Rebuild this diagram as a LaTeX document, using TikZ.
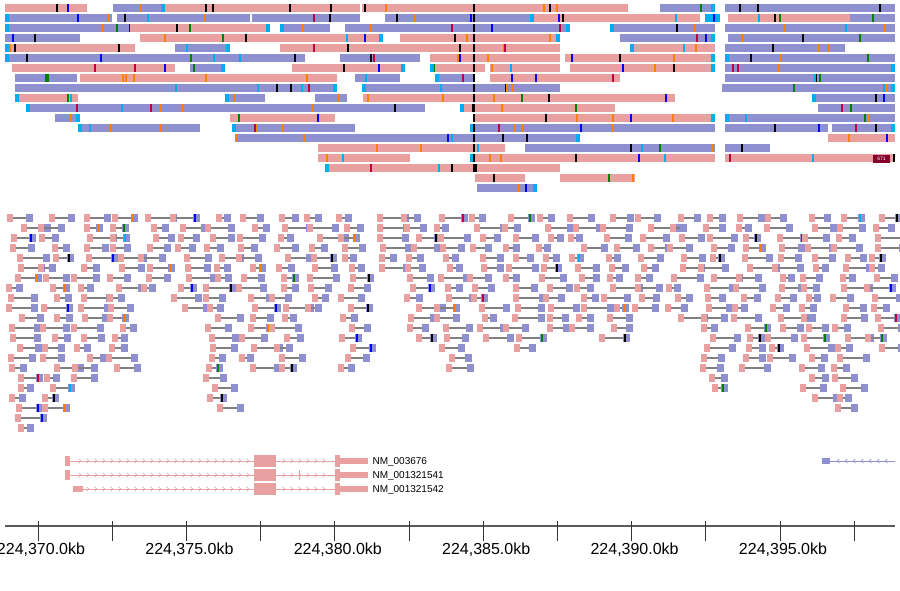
\documentclass[tikz,border=0pt]{standalone}
\usepackage{fontspec}
\setmainfont{Liberation Sans}
\definecolor{pk}{RGB}{232,160,160}
\definecolor{bl}{RGB}{142,144,208}
\definecolor{ax}{RGB}{90,90,90}
\pgfmathdeclarerandomlist{marks}{{black}{orange}{green!50!black}{blue}{purple}{cyan}{black}{orange}}
\newcommand\seg[4]{%
 \pgfmathsetmacro\yy{4+10*#3}%
 \fill[#4] (#1,\yy) rectangle (#2,\yy+8);%
 \pgfmathtruncatemacro\nm{(#2-#1)/60}%
 \foreach \k in {0,...,\nm}{\pgfmathrandominteger{\mx}{#1}{#2-2}\pgfmathrandomitem{\mc}{marks}\fill[\mc] (\mx,\yy) rectangle (\mx+1.6,\yy+8);}%
 \pgfmathrandominteger{\cp}{0}{3}%
 \ifnum\cp=0 \fill[cyan] (#1,\yy) rectangle (#1+4,\yy+8);\fi
 \ifnum\cp=1 \fill[cyan] (#2-4,\yy) rectangle (#2,\yy+8);\fi
}
\begin{document}
\begin{tikzpicture}[x=1pt,y=-1pt]
\useasboundingbox (0,0) rectangle (900,591);
\fill[white] (0,0) rectangle (900,591);
\clip (0,0) rectangle (900,591);
\pgfmathsetseed{7}
% top coverage rows
\foreach \a/\b/\r/\c in {5/87/0/pk,113/165/0/bl,165/360/0/pk,362/628/0/pk,660/715/0/bl,725/895/0/bl,
5/112/1/bl,117/250/1/bl,252/360/1/bl,385/530/1/bl,530/700/1/pk,705/720/1/cyan,728/850/1/pk,850/895/1/bl,
5/135/2/bl,130/270/2/pk,280/330/2/bl,345/570/2/bl,610/715/2/bl,725/895/2/bl,
5/80/3/bl,140/383/3/pk,400/560/3/pk,620/715/3/bl,728/895/3/bl,
5/135/4/pk,175/230/4/bl,280/560/4/pk,630/715/4/pk,725/845/4/bl,
5/305/5/bl,340/420/5/bl,430/560/5/pk,565/715/5/pk,725/895/5/bl,
12/175/6/pk,190/225/6/bl,292/405/6/pk,430/485/6/pk,490/560/6/pk,570/715/6/pk,725/895/6/bl,
15/77/7/bl,80/337/7/pk,355/400/7/bl,435/475/7/bl,490/620/7/pk,725/895/7/bl,
15/337/8/bl,362/560/8/bl,722/895/8/bl,
15/78/9/pk,225/265/9/bl,315/347/9/bl,363/675/9/pk,812/895/9/bl,
26/425/10/bl,460/615/10/pk,818/895/10/bl,
55/80/11/bl,230/335/11/pk,473/715/11/pk,725/895/11/bl,
78/200/12/bl,232/355/12/bl,470/715/12/bl,725/828/12/bl,832/895/12/bl,
235/580/13/bl,828/895/13/pk,
318/505/14/pk,525/715/14/bl,725/770/14/bl,
318/410/15/pk,470/715/15/pk,725/895/15/pk,
325/560/16/pk,475/525/17/pk,560/635/17/pk,477/537/18/bl}
 {\seg{\a}{\b}{\r}{\c}}
\foreach \r in {0,...,16}{\fill[black] (473,4+10*\r) rectangle (475,12+10*\r);}
\fill[purple!70!black] (873,155) rectangle (890,163);
\node[font=\fontsize{5}{5}\selectfont,text=white] (n671) at (881.5,159) {671};
% split reads
\foreach \c/\d in {0/21,1/19,2/16,3/15,4/7,5/9,6/19,7/15,8/15,9/9,10/15,11/5,12/12,13/15,14/12,15/13,16/11,17/11,18/12,19/9,20/10,21/17,22/15,23/14,24/18,25/19,26/13}{
 \foreach \r in {0,...,\d}{
  \pgfmathrandominteger{\o}{0}{16}\pgfmathrandominteger{\L}{8}{26}
  \pgfmathsetmacro\xx{5+33*\c+\o}\pgfmathsetmacro\yy{214+10*\r}
  \draw[gray,line width=1.6] (\xx+5,\yy+4) -- (\xx+\L,\yy+4);
  \fill[pk] (\xx,\yy) rectangle (\xx+6,\yy+8);
  \fill[bl] (\xx+\L,\yy) rectangle (\xx+\L+7,\yy+8);
  \pgfmathrandominteger{\q}{0}{5}
  \ifnum\q=0 \pgfmathrandomitem{\mc}{marks}\fill[\mc] (\xx+\L+1,\yy) rectangle (\xx+\L+3,\yy+8);\fi
 }}
% genes
\tikzset{gl/.style={pk,line width=1},chev/.style={pk,line width=.6}}
\foreach \y/\s in {461/65,475/65,489/80}{
 \draw[gl] (\s,\y) -- (335,\y);
 \foreach \x in {80,88,...,250,284,292,...,330}{\draw[chev] (\x-1.5,\y-2.2) -- (\x+1,\y) -- (\x-1.5,\y+2.2);}
 \fill[pk] (254,\y-6) rectangle (276,\y+6);
 \fill[pk] (335,\y-6) rectangle (340,\y+6);
 \fill[pk] (340,\y-3) rectangle (368,\y+3);
}
\fill[pk] (65,456) rectangle (70,466);\fill[pk] (65,470) rectangle (70,480);
\fill[pk] (73,486) rectangle (83,492);
\draw[gl] (299,470) -- (299,480);
\fill[pk] (335,470) rectangle (340,480);
\node[anchor=west,font=\fontsize{10}{10}\selectfont] (g1) at (369,461.5) {NM\_003676};
\node[anchor=west,font=\fontsize{10}{10}\selectfont] (g2) at (369,475.5) {NM\_001321541};
\node[anchor=west,font=\fontsize{10}{10}\selectfont] (g3) at (369,489.5) {NM\_001321542};
\draw[bl,line width=1] (822,461) -- (895,461);
\fill[bl] (822,458) rectangle (830,464);
\foreach \x in {838,846,...,892}{\draw[bl,line width=.6] (\x+1.5,458.8) -- (\x-1,461) -- (\x+1.5,463.2);}
% axis
\draw[ax,line width=1.8] (5,526) -- (895,526);
\foreach \i in {0,...,11}{\draw[black!80,line width=1] (38+74.2*\i,521) -- (38+74.2*\i,541);}
\foreach \i/\t in {0/224{,}370.0kb,2/224{,}375.0kb,4/224{,}380.0kb,6/224{,}385.0kb,8/224{,}390.0kb,10/224{,}395.0kb}
 {\node[font=\fontsize{16}{16}\selectfont] (t\i) at (41+74.2*\i,550) {\t};}
\end{tikzpicture}
\end{document}
